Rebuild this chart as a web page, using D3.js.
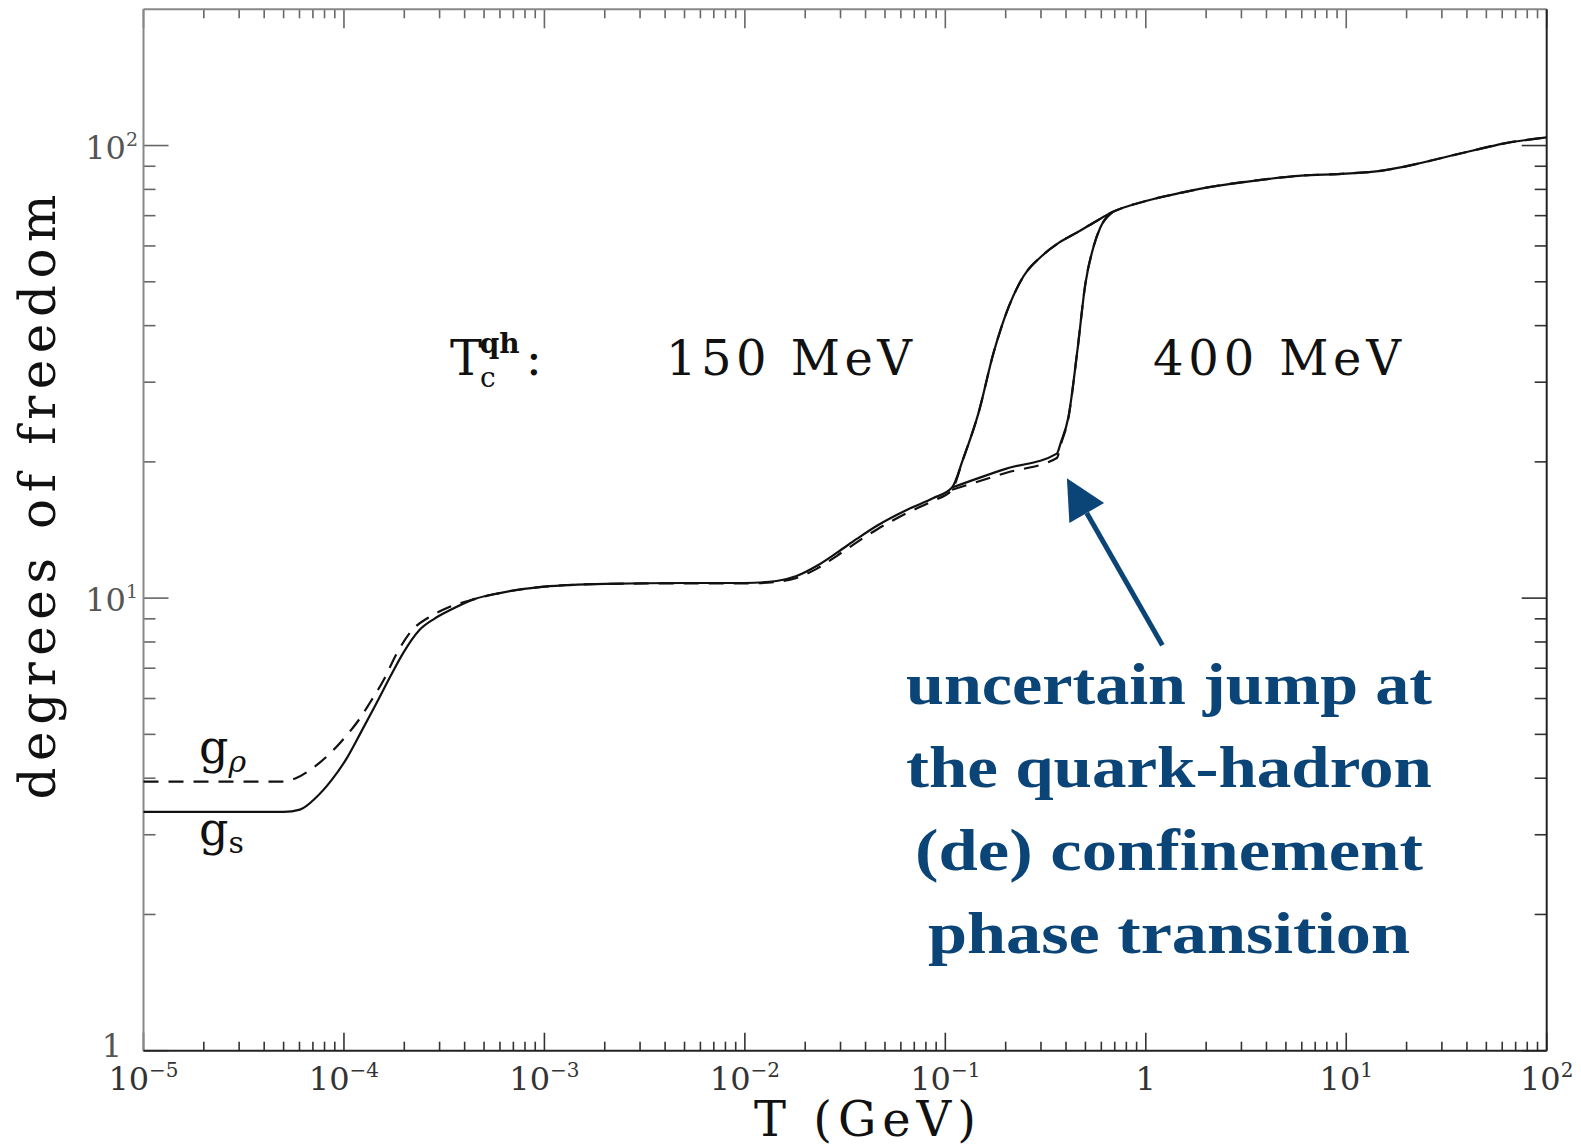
<!DOCTYPE html>
<html>
<head>
<meta charset="utf-8">
<script src="https://cdn.jsdelivr.net/npm/d3@7"></script>
<style>
body { margin: 0; background: #fff; }
text { font-family: "DejaVu Serif", "Liberation Serif", serif; }
</style>
</head>
<body>
<script>
// values: T in GeV, g = effective degrees of freedom

// g_s (solid), common part up to the kink near 0.1 GeV
var tSLow = [1e-5, 5.01e-5, 6.03e-5, 7.28e-5, 8.71e-5, 1.03e-4, 1.20e-4, 1.45e-4, 1.70e-4, 1.97e-4, 2.38e-4, 2.82e-4, 3.37e-4, 4.47e-4, 5.98e-4, 1e-3, 2e-3, 5e-3, 1.0e-2, 1.44e-2, 1.81e-2, 2.29e-2, 2.88e-2, 3.63e-2, 4.58e-2, 6.49e-2, 8.67e-2, 0.108];
var gSLow = [3.37, 3.37, 3.41, 3.63, 3.97, 4.42, 5.0, 5.85, 6.7, 7.55, 8.5, 9.0, 9.4, 9.95, 10.26, 10.6, 10.75, 10.8, 10.8, 10.91, 11.19, 11.79, 12.6, 13.53, 14.47, 15.7, 16.62, 17.55];

// g_rho (dashed), same stretch
var tRLow = [1e-5, 4.79e-5, 5.75e-5, 7.28e-5, 8.71e-5, 1.03e-4, 1.20e-4, 1.34e-4, 1.58e-4, 1.82e-4, 2.19e-4, 2.63e-4, 3.16e-4, 4.47e-4, 5.98e-4, 1e-3, 2e-3, 5e-3, 1.0e-2, 1.44e-2, 1.81e-2, 2.29e-2, 2.88e-2, 3.63e-2, 4.58e-2, 6.49e-2, 8.67e-2, 0.108];
var gRLow = [3.93, 3.93, 4.0, 4.27, 4.58, 4.97, 5.42, 5.85, 6.6, 7.5, 8.5, 9.05, 9.45, 9.95, 10.26, 10.6, 10.75, 10.78, 10.78, 10.86, 11.08, 11.62, 12.4, 13.3, 14.2, 15.45, 16.4, 17.35];

// T_c = 150 MeV branch
var tBranchA = [0.1227, 0.1462, 0.1739, 0.2070, 0.246, 0.303, 0.369, 0.455, 0.554, 0.682];
var gBranchA = [20.3, 25.6, 34.8, 44.0, 51.5, 57.0, 61.0, 64.3, 67.7, 71.3];

// T_c = 400 MeV branch
var tBranchB = [0.108, 0.20, 0.360, 0.376, 0.411, 0.456, 0.500, 0.55, 0.594, 0.682];
var gSBranchB = [17.55, 19.3, 20.86, 22.0, 25.1, 35.3, 49.6, 60.0, 66.0, 71.3];
var gRBranchB = [17.35, 18.9, 20.4, 21.8, 25.0, 35.3, 49.6, 60.0, 66.0, 71.3];

// above the transition
var tHigh = [1.0, 1.49, 2.10, 3.76, 5.97, 9.51, 15.1, 21.4, 30.3, 42.9, 60.7, 100];
var gHigh = [75.4, 78.6, 81.0, 84.0, 85.8, 86.6, 88.0, 90.6, 94.0, 97.5, 101.0, 104.2];

var xMajors = [1e-5, 1e-4, 1e-3, 1e-2, 1e-1, 1, 10, 100];
var xExps = ["\u22125", "\u22124", "\u22123", "\u22122", "\u22121", "", "1", "2"];
var yMajors = [1, 10, 100];
var yExps = ["", "1", "2"];

var noteLines = ["uncertain jump at", "the quark-hadron", "(de) confinement", "phase transition"];

var width = 1581, height = 1146;
var mLeft = 143.5, mRight = 1546.7, mTop = 9.3, mBottom = 1050.7;

var svg = d3.select("body").append("svg")
  .attr("width", width)
  .attr("height", height);

var x = d3.scaleLog().domain([1e-5, 1e2]).range([mLeft, mRight]);
var y = d3.scaleLog().domain([1, 200]).range([mBottom, mTop]);

// ticks: every integer multiple in each decade, majors longer
var isMajor = function(v) { return Math.abs(Math.log10(v) - Math.round(Math.log10(v))) < 1e-9; };
var xTicks = x.ticks();
var yTicks = y.ticks().filter(function(v) { return v <= 100; });

function tickLines(g, vals, scale, orient, lenMajor, lenMinor, color) {
  g.selectAll("line")
    .data(vals)
    .enter()
    .append("line")
    .attr("stroke", color)
    .attr("stroke-width", 1.6)
    .each(function(d) {
      var len = isMajor(d) ? lenMajor : lenMinor;
      var p = scale(d);
      var s = d3.select(this);
      if (orient == "bottom") s.attr("x1", p).attr("x2", p).attr("y1", mBottom).attr("y2", mBottom - len);
      if (orient == "top") s.attr("x1", p).attr("x2", p).attr("y1", mTop).attr("y2", mTop + len);
      if (orient == "left") s.attr("y1", p).attr("y2", p).attr("x1", mLeft).attr("x2", mLeft + len);
      if (orient == "right") s.attr("y1", p).attr("y2", p).attr("x1", mRight).attr("x2", mRight - len);
    });
}

tickLines(svg.append("g"), xTicks, x, "bottom", 18, 9, "#333");
tickLines(svg.append("g"), xTicks, x, "top", 19, 9, "#666");
tickLines(svg.append("g"), yTicks, y, "left", 25, 12, "#666");
tickLines(svg.append("g"), yTicks, y, "right", 25, 12, "#333");

// frame: left/top lighter, right/bottom darker as in the scan
svg.append("line").attr("x1", mLeft).attr("x2", mLeft).attr("y1", mTop).attr("y2", mBottom).attr("stroke", "#888").attr("stroke-width", 2);
svg.append("line").attr("x1", mLeft).attr("x2", mRight).attr("y1", mTop).attr("y2", mTop).attr("stroke", "#888").attr("stroke-width", 2);
svg.append("line").attr("x1", mRight).attr("x2", mRight).attr("y1", mTop).attr("y2", mBottom).attr("stroke", "#222").attr("stroke-width", 2);
svg.append("line").attr("x1", mLeft).attr("x2", mRight).attr("y1", mBottom).attr("y2", mBottom).attr("stroke", "#222").attr("stroke-width", 2);

// x tick labels
var xl = svg.append("g").selectAll("text")
  .data(xMajors)
  .enter()
  .append("text")
  .attr("x", function(d) { return x(d); })
  .attr("y", 1090)
  .attr("text-anchor", "middle")
  .attr("font-size", 32)
  .attr("fill", "#333");
xl.append("tspan").text(function(d, i) { return xExps[i] === "" ? "1" : "10"; });
xl.append("tspan")
  .attr("font-size", 20)
  .attr("dy", -13)
  .text(function(d, i) { return xExps[i]; });

// y tick labels
var yl = svg.append("g").selectAll("text")
  .data(yMajors)
  .enter()
  .append("text")
  .attr("x", function(d) { return d == 1 ? 122 : 138; })
  .attr("y", function(d) { return y(d) + (d == 1 ? 6 : 13); })
  .attr("text-anchor", "end")
  .attr("font-size", 32)
  .attr("fill", "#555");
yl.append("tspan").text(function(d, i) { return yExps[i] === "" ? "1" : "10"; });
yl.append("tspan")
  .attr("font-size", 19)
  .attr("dy", -13)
  .text(function(d, i) { return yExps[i]; });

// axis titles
svg.append("text")
  .attr("x", 865)
  .attr("y", 1136)
  .attr("text-anchor", "middle")
  .attr("font-size", 48)
  .attr("textLength", 222)
  .attr("lengthAdjust", "spacing")
  .attr("fill", "#111")
  .text("T (GeV)");

svg.append("text")
  .attr("transform", "translate(55,497) rotate(-90)")
  .attr("text-anchor", "middle")
  .attr("font-size", 50)
  .attr("textLength", 605)
  .attr("lengthAdjust", "spacing")
  .attr("fill", "#111")
  .text("degrees of freedom");

// curves
var line = d3.line()
  .x(function(d) { return x(d[0]); })
  .y(function(d) { return y(d[1]); })
  .curve(d3.curveMonotoneX);

function pairs(ts, gs) { return ts.map(function(t, i) { return [t, gs[i]]; }); }

var sMain = pairs(tSLow, gSLow).concat(pairs(tBranchA, gBranchA), pairs(tHigh, gHigh));
var sB = pairs(tBranchB, gSBranchB);
var rMain = pairs(tRLow, gRLow).concat(pairs(tBranchA, gBranchA), pairs(tHigh, gHigh));
var rB = pairs(tBranchB, gRBranchB);

[sMain, sB].forEach(function(d) {
  svg.append("path").datum(d).attr("d", line)
    .attr("fill", "none").attr("stroke", "#111").attr("stroke-width", 2.2);
});
[rMain, rB].forEach(function(d) {
  svg.append("path").datum(d).attr("d", line)
    .attr("fill", "none").attr("stroke", "#111").attr("stroke-width", 2.2)
    .attr("stroke-dasharray", "15,10");
});

// curve labels
var gRho = svg.append("text").attr("x", 199).attr("y", 763).attr("font-size", 46).attr("fill", "#111");
gRho.append("tspan").text("g");
gRho.append("tspan").attr("font-size", 30).attr("font-style", "italic").attr("dy", 9).text("\u03c1");
var gS = svg.append("text").attr("x", 199).attr("y", 845).attr("font-size", 46).attr("fill", "#111");
gS.append("tspan").text("g");
gS.append("tspan").attr("font-size", 30).attr("dy", 8).text("s");

// T_c^qh labels
var tc = svg.append("text").attr("x", 450).attr("y", 375).attr("font-size", 48).attr("fill", "#111");
tc.append("tspan").text("T");
tc.append("tspan").attr("font-size", 28).attr("dx", -2).attr("dy", 12).text("c");
tc.append("tspan").attr("font-size", 28).attr("font-weight", "bold").attr("dx", -16).attr("dy", -34).text("qh");
tc.append("tspan").attr("dy", 22).attr("dx", 6).text(":");

svg.append("text").attr("x", 666).attr("y", 375).attr("font-size", 48)
  .attr("textLength", 246).attr("lengthAdjust", "spacing").attr("fill", "#111").text("150 MeV");
svg.append("text").attr("x", 1153).attr("y", 375).attr("font-size", 48)
  .attr("textLength", 248).attr("lengthAdjust", "spacing").attr("fill", "#111").text("400 MeV");

// annotation arrow, anchored in data units
var blue = "#0b4577";
var tip = [x(0.404), y(18.4)], tail = [x(1.21), y(7.87)];
var ang = Math.atan2(tip[1] - tail[1], tip[0] - tail[0]);
var headLen = 40, headW = 20;
var base = [tip[0] - headLen * Math.cos(ang), tip[1] - headLen * Math.sin(ang)];
svg.append("line")
  .attr("x1", tail[0]).attr("y1", tail[1]).attr("x2", base[0]).attr("y2", base[1])
  .attr("stroke", blue).attr("stroke-width", 5);
svg.append("path")
  .attr("d", "M" + tip[0] + "," + tip[1] +
    "L" + (base[0] + headW * Math.sin(ang)) + "," + (base[1] - headW * Math.cos(ang)) +
    "L" + (base[0] - headW * Math.sin(ang)) + "," + (base[1] + headW * Math.cos(ang)) + "Z")
  .attr("fill", blue);

var noteY = [704, 787, 870, 953];
var noteW = [526, 526, 508, 482];
svg.append("g").selectAll("text")
  .data(noteLines)
  .enter()
  .append("text")
  .attr("x", 1169)
  .attr("y", function(d, i) { return noteY[i]; })
  .attr("text-anchor", "middle")
  .style("font-family", "'Liberation Serif', serif")
  .attr("font-size", 60)
  .attr("font-weight", "bold")
  .attr("fill", blue)
  .attr("textLength", function(d, i) { return noteW[i]; })
  .attr("lengthAdjust", "spacingAndGlyphs")
  .text(function(d) { return d; });
</script>
</body>
</html>
